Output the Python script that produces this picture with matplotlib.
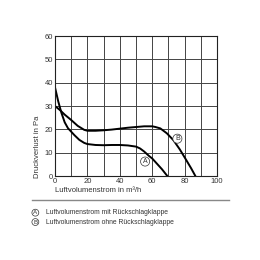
import matplotlib
matplotlib.use('Agg')
import matplotlib.pyplot as plt
from matplotlib.lines import Line2D

plt.rcParams['font.family'] = ['Liberation Sans', 'DejaVu Sans']

# curve A: mit Rueckschlagklappe
a_x = [0, 2, 4, 6, 8, 10, 12, 15, 18, 20, 25, 30, 35, 40, 45, 50, 52.5, 55, 58, 60, 63, 66, 69.3]
a_y = [38, 32, 27, 23, 20.5, 19, 17.5, 15.5, 14.2, 13.7, 13.3, 13.2, 13.3, 13.3, 13.1, 12.6, 11.8,
       10.5, 8.6, 7.5, 5.2, 2.9, 0]

# curve B: ohne Rueckschlagklappe
b_x = [0, 3, 6, 10, 14, 18, 20, 25, 30, 35, 40, 45, 50, 55, 60, 62, 65, 69, 73, 77, 81, 84, 86.6]
b_y = [30, 28.3, 26.3, 24, 21.5, 19.8, 19.4, 19.4, 19.6, 19.9, 20.3, 20.7, 21, 21.3, 21.3, 21.0, 20.4,
       18.3, 15.4, 11.4, 6.8, 3.3, 0]

x_ticks = [0, 20, 40, 60, 80, 100]
y_ticks = [0, 10, 20, 30, 40, 50, 60]

legend_rows = [('A', 'Luftvolumenstrom mit Rückschlagklappe'),
               ('B', 'Luftvolumenstrom ohne Rückschlagklappe')]

txt = '#333333'
fs = 5.5

fig = plt.figure(figsize=(2.6, 2.6), dpi=100)
ax = fig.add_axes([0.2115, 0.323, 0.6235, 0.5385])

ax.set_xlim(0, 100)
ax.set_ylim(0, 60)
ax.set_yticks(y_ticks)
ax.set_xticks(x_ticks)
ax.set_xticks(range(0, 101, 10), minor=True)
ax.grid(True, color='#444444', lw=0.7)
ax.grid(True, which='minor', axis='x', color='#444444', lw=0.7)
ax.tick_params(which='both', length=0, labelsize=fs, labelcolor=txt, pad=1.5)
for s in ax.spines.values():
    s.set_color('#222222')
    s.set_linewidth(0.8)

ax.plot(a_x, a_y, color='black', lw=1.4)
ax.plot(b_x, b_y, color='black', lw=1.4)

circ = dict(boxstyle='circle,pad=0.15', fc='white', ec='#333333', lw=0.5)
ax.text(55.6, 6.2, 'A', fontsize=5, color=txt, ha='center', va='center', bbox=circ)
ax.text(75.5, 16, 'B', fontsize=5, color=txt, ha='center', va='center', bbox=circ)

fig.text(0.146, 0.315, 'Druckverlust in Pa', fontsize=fs, color=txt, rotation=90,
         ha='center', va='bottom')
fig.text(0.2115, 0.268, 'Luftvolumenstrom in m³/h', fontsize=fs, color=txt, ha='left', va='center')

fig.add_artist(Line2D([0.123, 0.88], [0.231, 0.231], color='#888888', lw=1.0))

for i, (letter, label) in enumerate(legend_rows):
    yy = 0.182 - i * 0.036
    fig.text(0.136, yy, letter, fontsize=4.5, color=txt, ha='center', va='center', bbox=circ)
    fig.text(0.177, yy, label, fontsize=4.9, color=txt, ha='left', va='center')

fig.savefig('out.png', dpi=100, facecolor='white')
